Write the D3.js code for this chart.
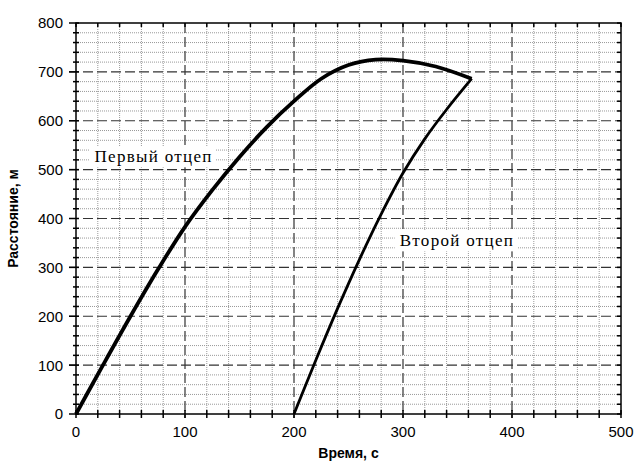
<!DOCTYPE html>
<html>
<head>
<meta charset="utf-8">
<script src="https://cdn.jsdelivr.net/npm/d3@7"></script>
<style>
  body { margin: 0; background: #fff; }
  #chart { width: 636px; height: 461px; }
</style>
</head>
<body>
<div id="chart"></div>
<script>
// ====== data ======
const firstTime = [0, 25, 50, 75, 100, 125, 150, 175, 200, 225, 250, 275, 300, 330, 363];
const firstDist = [0, 101, 200, 295, 383, 458, 526, 587, 640, 686, 714, 725, 723, 711, 686];

const secondTime = [200, 220, 240, 260, 280, 300, 320, 340, 363];
const secondDist = [0, 110, 216, 316, 409, 493, 563, 623, 686];

const xTicks = [0, 100, 200, 300, 400, 500];
const yTicks = [0, 100, 200, 300, 400, 500, 600, 700, 800];
const minorStep = 20;

const labels = [
  { text: "Первый отцеп", t: 17, d: 515 },
  { text: "Второй отцеп", t: 297, d: 343 }
];

// ====== chart ======
const width = 636, height = 461;
const margin = { top: 23, right: 15, bottom: 47, left: 76 };
const innerW = width - margin.left - margin.right;
const innerH = height - margin.top - margin.bottom;

const svg = d3.select("#chart").append("svg")
  .attr("width", width)
  .attr("height", height);

const g = svg.append("g")
  .attr("transform", `translate(${margin.left},${margin.top})`);

const x = d3.scaleLinear().domain([0, 500]).range([0, innerW]);
const y = d3.scaleLinear().domain([0, 800]).range([innerH, 0]);

const xMinor = d3.range(0, 500 + 1, minorStep);
const yMinor = d3.range(0, 800 + 1, minorStep);

// minor dotted grid
g.append("g").selectAll("line")
  .data(xMinor.filter(v => v % 100 !== 0))
  .join("line")
  .attr("x1", d => x(d)).attr("x2", d => x(d))
  .attr("y1", 0).attr("y2", innerH)
  .attr("stroke", "#999").attr("stroke-width", 1)
  .attr("stroke-dasharray", "1,1");

g.append("g").selectAll("line")
  .data(yMinor.filter(v => v % 100 !== 0))
  .join("line")
  .attr("x1", 0).attr("x2", innerW)
  .attr("y1", d => y(d)).attr("y2", d => y(d))
  .attr("stroke", "#999").attr("stroke-width", 1)
  .attr("stroke-dasharray", "1,1");

// major dashed grid
g.append("g").selectAll("line")
  .data(xTicks.slice(1, -1))
  .join("line")
  .attr("x1", d => x(d)).attr("x2", d => x(d))
  .attr("y1", 0).attr("y2", innerH + 4)
  .attr("stroke", "#333").attr("stroke-width", 1.2)
  .attr("stroke-dasharray", "10,4");

g.append("g").selectAll("line")
  .data(yTicks.slice(1, -1))
  .join("line")
  .attr("x1", -7).attr("x2", innerW)
  .attr("y1", d => y(d)).attr("y2", d => y(d))
  .attr("stroke", "#333").attr("stroke-width", 1.2)
  .attr("stroke-dasharray", "10,4");

// frame
g.append("rect")
  .attr("width", innerW).attr("height", innerH)
  .attr("fill", "none").attr("stroke", "#000").attr("stroke-width", 1.5);

// ticks: left & bottom cross the axis, top & right inward
g.append("g").selectAll("line")
  .data(yMinor)
  .join("line")
  .attr("x1", d => d % 100 === 0 ? -7 : -3).attr("x2", 3)
  .attr("y1", d => y(d)).attr("y2", d => y(d))
  .attr("stroke", "#000").attr("stroke-width", 1.5);

g.append("g").selectAll("line")
  .data(xMinor)
  .join("line")
  .attr("x1", d => x(d)).attr("x2", d => x(d))
  .attr("y1", innerH - 4).attr("y2", innerH + 4)
  .attr("stroke", "#000").attr("stroke-width", 1.5);

g.append("g").selectAll("line")
  .data(xMinor)
  .join("line")
  .attr("x1", d => x(d)).attr("x2", d => x(d))
  .attr("y1", 0).attr("y2", 4)
  .attr("stroke", "#000").attr("stroke-width", 1.5);

g.append("g").selectAll("line")
  .data(yMinor)
  .join("line")
  .attr("x1", innerW - 4).attr("x2", innerW)
  .attr("y1", d => y(d)).attr("y2", d => y(d))
  .attr("stroke", "#000").attr("stroke-width", 1.5);

// tick labels
const tickFont = "'Liberation Sans', Arial, sans-serif";
g.append("g").selectAll("text")
  .data(yTicks)
  .join("text")
  .attr("x", -13).attr("y", d => y(d))
  .attr("dy", "0.36em")
  .attr("text-anchor", "end")
  .style("font-family", tickFont).style("font-size", "15px")
  .text(d => d);

g.append("g").selectAll("text")
  .data(xTicks)
  .join("text")
  .attr("x", d => x(d)).attr("y", innerH + 23)
  .attr("text-anchor", "middle")
  .style("font-family", tickFont).style("font-size", "15px")
  .text(d => d);

// axis titles
svg.append("text")
  .attr("x", margin.left + innerW / 2).attr("y", 458)
  .attr("text-anchor", "middle")
  .style("font-family", tickFont).style("font-size", "14px").style("font-weight", "bold")
  .text("Время, с");

svg.append("text")
  .attr("transform", `translate(18,${margin.top + innerH / 2}) rotate(-90)`)
  .attr("text-anchor", "middle")
  .style("font-family", tickFont).style("font-size", "14px").style("font-weight", "bold")
  .text("Расстояние, м");

// curves
const line = d3.line()
  .x(d => x(d[0])).y(d => y(d[1]))
  .curve(d3.curveCatmullRom.alpha(0.5));

g.append("path")
  .datum(d3.zip(firstTime, firstDist))
  .attr("d", line)
  .attr("fill", "none").attr("stroke", "#000").attr("stroke-width", 3.8)
  .attr("stroke-linejoin", "round");

g.append("path")
  .datum(d3.zip(secondTime, secondDist))
  .attr("d", line)
  .attr("fill", "none").attr("stroke", "#000").attr("stroke-width", 2.8)
  .attr("stroke-linejoin", "round");

// curve labels with white backing
labels.forEach(l => {
  const t = g.append("text")
    .attr("x", x(l.t)).attr("y", y(l.d))
    .style("font-family", "'Liberation Serif', 'Times New Roman', serif")
    .style("font-size", "17px")
    .style("letter-spacing", "1.3px")
    .text(l.text);
  const bb = t.node().getBBox();
  g.insert("rect", () => t.node())
    .attr("x", bb.x - 5).attr("y", bb.y - 1)
    .attr("width", bb.width + 8).attr("height", bb.height + 2)
    .attr("fill", "#fff");
});
</script>
</body>
</html>
